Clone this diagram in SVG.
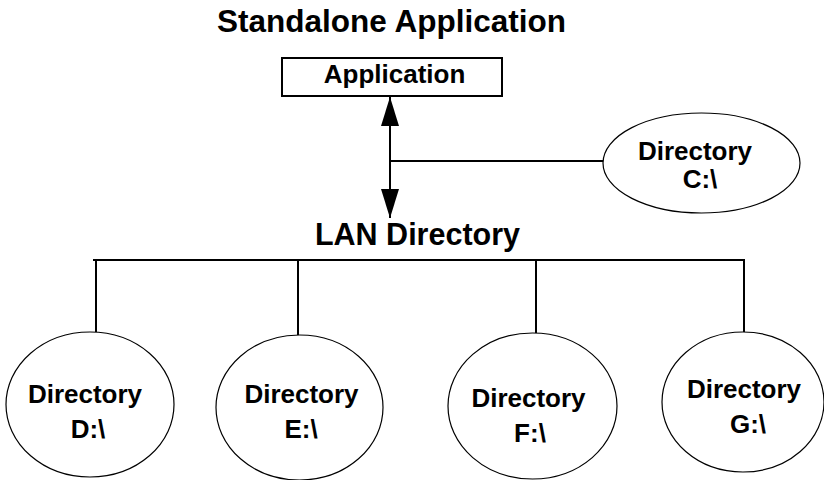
<svg xmlns="http://www.w3.org/2000/svg" width="824" height="480" viewBox="0 0 824 480">
<defs>
<style>
text{font-family:"Liberation Sans",Arial,Helvetica,sans-serif;font-weight:bold;fill:#000;text-anchor:middle}
.title{font-size:31.5px}
.lbl{font-size:26px}
.lan{font-size:30.5px}
.node{fill:#fff;stroke:#000;stroke-width:1.2}
.box{fill:#fff;stroke:#000;stroke-width:2}
.conn{fill:none;stroke:#000;stroke-width:2}
</style>
<marker id="ah" viewBox="0 0 29 18" refX="29" refY="9" markerWidth="29" markerHeight="18" markerUnits="userSpaceOnUse" orient="auto-start-reverse">
<path d="M0,0 L29,9 L0,18 Z" fill="#000"/>
</marker>
</defs>
<rect width="824" height="480" fill="#fff"/>
<text class="title" x="391.5" y="32">Standalone Application</text>
<text class="lan" x="417.5" y="245">LAN Directory</text>
<g id="connectors">
<line class="conn" x1="390" y1="97" x2="390" y2="218" marker-start="url(#ah)" marker-end="url(#ah)"/>
<line class="conn" x1="390" y1="161" x2="604" y2="161"/>
<line class="conn" x1="93" y1="260" x2="745" y2="260"/>
<line class="conn" x1="96" y1="260" x2="96" y2="332"/>
<line class="conn" x1="298" y1="260" x2="298" y2="335"/>
<line class="conn" x1="536" y1="260" x2="536" y2="333"/>
<line class="conn" x1="744" y1="260" x2="744" y2="332"/>
</g>
<g id="application">
<rect class="box" x="282" y="58" width="220" height="38"/>
<text class="lbl" x="394.5" y="83">Application</text>
</g>
<g id="dirC">
<ellipse class="node" cx="701.5" cy="163" rx="98.5" ry="50"/>
<text class="lbl" x="695" y="160">Directory</text>
<text class="lbl" x="700" y="188">C:\</text>
</g>
<g id="dirD">
<ellipse class="node" cx="90" cy="404.5" rx="84" ry="72.5"/>
<text class="lbl" x="85" y="403">Directory</text>
<text class="lbl" x="88" y="438">D:\</text>
</g>
<g id="dirE">
<ellipse class="node" cx="299.5" cy="407.5" rx="83.5" ry="72.5"/>
<text class="lbl" x="301.5" y="403">Directory</text>
<text class="lbl" x="301" y="438">E:\</text>
</g>
<g id="dirF">
<ellipse class="node" cx="532.5" cy="406" rx="84.5" ry="73"/>
<text class="lbl" x="528.5" y="407">Directory</text>
<text class="lbl" x="530" y="442">F:\</text>
</g>
<g id="dirG">
<ellipse class="node" cx="743" cy="402" rx="81" ry="70"/>
<text class="lbl" x="744" y="398">Directory</text>
<text class="lbl" x="748" y="433">G:\</text>
</g>
</svg>
